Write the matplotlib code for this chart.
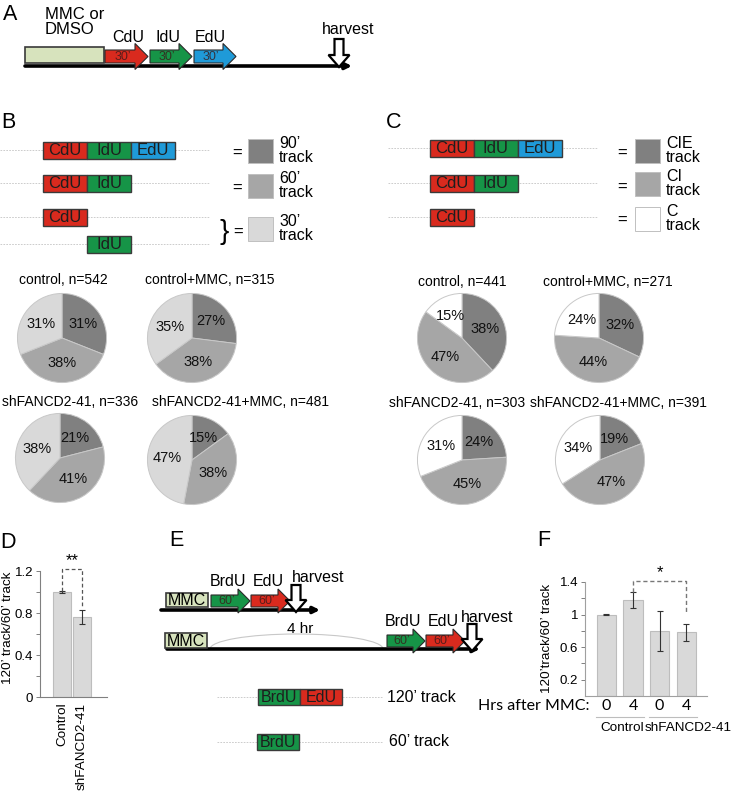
import matplotlib
matplotlib.use('Agg')
import matplotlib.pyplot as plt
from matplotlib.patches import Rectangle, FancyArrow, Arc
from matplotlib.ticker import FixedLocator
import matplotlib.transforms as mtransforms

plt.rcParams['font.family'] = ['Liberation Sans', 'DejaVu Sans']

W, H = 731, 791

# ===== panel B pies: 90', 60', 30' track (%) =====
b_titles = ['control, n=542', 'control+MMC, n=315',
            'shFANCD2-41, n=336', 'shFANCD2-41+MMC, n=481']
b_90 = [31, 27, 21, 15]
b_60 = [38, 38, 41, 38]
b_30 = [31, 35, 38, 47]

# ===== panel C pies: CIE, CI, C track (%) =====
c_titles = ['control, n=441', 'control+MMC, n=271',
            'shFANCD2-41, n=303', 'shFANCD2-41+MMC, n=391']
c_cie = [38, 32, 24, 19]
c_ci = [47, 44, 45, 47]
c_c = [15, 24, 31, 34]

# ===== panel D bars =====
d_groups = ['Control', 'shFANCD2-41']
d_vals = [1.00, 0.76]
d_errs = [0.01, 0.065]

# ===== panel F bars =====
f_hrs = ['0', '4', '0', '4']
f_vals = [1.00, 1.18, 0.80, 0.78]
f_errs = [0.005, 0.10, 0.25, 0.10]
f_groups = ['Control', 'shFANCD2-41']

RED, GREEN, BLUE = '#d92a1e', '#169447', '#1f9ad8'
PALE = '#d7e3bd'
DARK, MID, LIGHT = '#808080', '#a6a6a6', '#d9d9d9'
EDGE = '#3a3a3a'

fig = plt.figure(figsize=(W / 100, H / 100), dpi=100)
bg = fig.add_axes([0, 0, 1, 1])
bg.set_xlim(0, W)
bg.set_ylim(H, 0)
bg.axis('off')


def px_axes(x0, y0, x1, y1):
    return fig.add_axes([x0 / W, 1 - y1 / H, (x1 - x0) / W, (y1 - y0) / H])


def txt(x, y, s, size=11, **kw):
    kw.setdefault('ha', 'center')
    kw.setdefault('va', 'center')
    bg.text(x, y, s, fontsize=size, **kw)


def block_arrow(x0, x1, yc, col, label, body=13, head=26, hl=13):
    bg.add_patch(FancyArrow(x0, yc, x1 - x0, 0, width=body, head_width=head,
                            head_length=hl, length_includes_head=True,
                            fc=col, ec='#2a2a2a', lw=0.8, zorder=3))
    txt((x0 + x1) / 2 - 4, yc + 0.5, label, size=9, color='#3a1a1a', alpha=0.8, zorder=4)


def harvest_arrow(x, y0, y1):
    bg.add_patch(FancyArrow(x, y0, 0, y1 - y0, width=9, head_width=21,
                            head_length=12, length_includes_head=True,
                            fc='white', ec='black', lw=1.6, zorder=5))


def timeline(x0, x1, y):
    bg.annotate('', xy=(x1, y), xytext=(x0, y),
                arrowprops=dict(arrowstyle='-|>', lw=2.6, color='black',
                                mutation_scale=9, shrinkA=0, shrinkB=0), zorder=2)


def mmc_box(x0, y0, x1, y1, label=None):
    bg.add_patch(Rectangle((x0, y0), x1 - x0, y1 - y0, fc=PALE, ec=EDGE, lw=1.2, zorder=3))
    if label:
        txt((x0 + x1) / 2, (y0 + y1) / 2 + 0.5, label, size=11.5, zorder=4)


def track(x0, y, labels, cols, seg=44, h=17, size=12):
    for i, (lab, c) in enumerate(zip(labels, cols)):
        bg.add_patch(Rectangle((x0 + i * seg, y - h / 2), seg, h, fc=c, ec=EDGE, lw=1.0, zorder=3))
        txt(x0 + i * seg + seg / 2, y + 0.5, lab, size=size, color='#1e1e1e', zorder=4)


def guide(x0, x1, y):
    bg.plot([x0, x1], [y, y], color='#c4c4c4', lw=0.6, ls=(0, (2, 1.5)), zorder=1)


def legend_square(x, y0, col, label):
    bg.add_patch(Rectangle((x, y0), 25, 24, fc=col, ec='#c0c0c0', lw=0.7))
    bg.text(x + 31, y0 + 11.5, label, fontsize=11.5, ha='left', va='center', linespacing=0.95)


def pie_at(cx, cy, vals, cols, r=45):
    ax = px_axes(cx - r, cy - r, cx + r, cy + r)
    ax.pie(vals, colors=cols, startangle=90, counterclock=False,
           autopct=lambda p: f'{p:.0f}%', pctdistance=0.56,
           wedgeprops=dict(edgecolor='#c8c8c8', linewidth=0.7),
           textprops=dict(fontsize=10.5, color='#111'))
    ax.set_xlim(-1.01, 1.01)
    ax.set_ylim(-1.01, 1.01)
    for p in ax.patches:
        p.set_clip_on(False)


# ---------------- panel letters ----------------
for lab, x, y in [('A', 10, 14), ('B', 8, 122), ('C', 394, 123),
                  ('D', 8, 542), ('E', 176, 541), ('F', 544, 540)]:
    txt(x, y, lab, size=15.5)

# ---------------- panel A ----------------
timeline(25, 352, 66)
mmc_box(25, 47, 104, 63)
txt(45, 22, 'MMC or\nDMSO', size=12, ha='left', linespacing=1.0)
block_arrow(105, 148, 56.5, RED, '30\u2019')
block_arrow(150, 192, 56.5, GREEN, '30\u2019')
block_arrow(194, 236, 56.5, BLUE, '30\u2019')
txt(128, 37, 'CdU', size=11.5)
txt(168, 37, 'IdU', size=11.5)
txt(210, 38, 'EdU', size=11.5)
txt(348, 29, 'harvest', size=11.5)
harvest_arrow(339, 39, 67)

# ---------------- panel B schematic ----------------
for y in [150, 183, 217, 244]:
    guide(0, 210, y)
track(43, 150, ['CdU', 'IdU', 'EdU'], [RED, GREEN, BLUE])
track(43, 183, ['CdU', 'IdU'], [RED, GREEN])
track(43, 217, ['CdU'], [RED])
track(87, 244, ['IdU'], [GREEN])
txt(237, 153, '=', size=12)
txt(237, 188, '=', size=12)
txt(238, 232, '=', size=12)
txt(224, 232, '}', size=20)
legend_square(248, 139, DARK, '90\u2019\ntrack')
legend_square(248, 174, MID, '60\u2019\ntrack')
legend_square(248, 217, LIGHT, '30\u2019\ntrack')

# ---------------- panel C schematic ----------------
for y in [148, 183, 217]:
    guide(388, 598, y)
track(430, 148, ['CdU', 'IdU', 'EdU'], [RED, GREEN, BLUE])
track(430, 183, ['CdU', 'IdU'], [RED, GREEN])
track(430, 217, ['CdU'], [RED])
txt(622, 153, '=', size=12)
txt(622, 187, '=', size=12)
txt(622, 220, '=', size=12)
legend_square(635, 139, DARK, 'CIE\ntrack')
legend_square(635, 172, MID, 'CI\ntrack')
legend_square(635, 207, 'white', 'C\ntrack')

# ---------------- pies ----------------
b_centers = [(62, 338), (192, 338), (60, 458), (192, 460)]
b_title_pos = [(63, 280), (210, 280), (70, 402), (241, 402)]
for i in range(4):
    pie_at(*b_centers[i], [b_90[i], b_60[i], b_30[i]], [DARK, MID, LIGHT])
    txt(*b_title_pos[i], b_titles[i], size=10)

c_centers = [(462, 338), (599, 338), (462, 460), (600, 460)]
c_title_pos = [(462, 282), (608, 282), (457, 403), (618, 403)]
for i in range(4):
    pie_at(*c_centers[i], [c_cie[i], c_ci[i], c_c[i]], [DARK, MID, 'white'])
    txt(*c_title_pos[i], c_titles[i], size=10)

# ---------------- panel D ----------------
axd = px_axes(40, 571, 107, 697)
xd = list(range(len(d_vals)))
axd.bar(xd, d_vals, width=0.9, color=LIGHT, edgecolor='#bdbdbd', lw=0.8)
axd.errorbar(xd, d_vals, yerr=d_errs, fmt='none', ecolor='#333', elinewidth=0.8, capsize=2.2, capthick=0.8)
axd.set_xlim(-1.1, 2.25)
axd.set_ylim(0, 1.2)
axd.yaxis.set_major_locator(FixedLocator([0, 0.4, 0.8, 1.2]))
axd.yaxis.set_minor_locator(FixedLocator([0.2, 0.6, 1.0]))
axd.set_yticklabels(['0', '0.4', '0.8', '1.2'])
axd.tick_params(axis='y', which='both', length=3, width=0.7, color='#808080', labelsize=9.5, pad=2)
axd.set_xticks(xd)
axd.set_xticklabels(d_groups, rotation=90, fontsize=9.7)
axd.tick_params(axis='x', length=0, pad=4)
for s in ['top', 'right']:
    axd.spines[s].set_visible(False)
for s in ['left', 'bottom']:
    axd.spines[s].set_color('#808080')
    axd.spines[s].set_linewidth(0.8)
top_d = max(v + e for v, e in zip(d_vals, d_errs)) + 0.21
axd.plot([xd[0], xd[0], xd[1], xd[1]],
         [d_vals[0] + d_errs[0], top_d, top_d, d_vals[1] + d_errs[1] + 0.03],
         color='#555', lw=0.9, ls=(0, (3, 2)), clip_on=False)
axd.text((xd[0] + xd[1]) / 2, top_d + 0.01, '**', ha='center', va='bottom', fontsize=12)
txt(8, 628, '120\u2019 track/60\u2019 track', size=9.7, rotation=90)

# ---------------- panel E ----------------
timeline(161, 320, 610)
mmc_box(166, 593, 208, 607, 'MMC')
block_arrow(211, 250, 601, GREEN, '60\u2019', body=12, head=24, hl=12)
block_arrow(251, 290, 601, RED, '60\u2019', body=12, head=24, hl=12)
txt(228, 582, 'BrdU', size=11.5)
txt(268, 582, 'EdU', size=11.5)
txt(318, 577, 'harvest', size=11.5)
harvest_arrow(296, 585, 612)

timeline(167, 480, 649)
mmc_box(165, 633, 207, 648, 'MMC')
bg.add_patch(Arc(((210 + 383) / 2, 649), 173, 30, theta1=180, theta2=360,
                 color='#c8c8c8', lw=0.8))
txt(300, 629, '4 hr', size=11)
block_arrow(387, 425, 641, GREEN, '60\u2019', body=12, head=24, hl=12)
block_arrow(426, 465, 641, RED, '60\u2019', body=12, head=24, hl=12)
txt(403, 622, 'BrdU', size=11.5)
txt(443, 622, 'EdU', size=11.5)
txt(487, 617, 'harvest', size=11.5)
harvest_arrow(472, 624, 651)

guide(217, 383, 697)
track(258, 697, ['BrdU', 'EdU'], [GREEN, RED], seg=42, h=16, size=11.5)
txt(387, 697, '120\u2019 track', ha='left', size=11.5)
guide(217, 383, 742)
track(257, 742, ['BrdU'], [GREEN], seg=42, h=16, size=11.5)
txt(389, 742, '60\u2019 track', ha='left', size=11.5)

# ---------------- panel F ----------------
axf = px_axes(585, 582, 707, 696)
xf = list(range(len(f_vals)))
axf.bar(xf, f_vals, width=0.72, color=LIGHT, edgecolor='#bdbdbd', lw=0.8)
axf.errorbar(xf, f_vals, yerr=f_errs, fmt='none', ecolor='#333', elinewidth=0.8, capsize=2.0, capthick=0.8)
axf.set_xlim(-0.81, 3.79)
axf.set_ylim(0, 1.4)
axf.yaxis.set_major_locator(FixedLocator([0.2, 0.6, 1.0, 1.4]))
axf.yaxis.set_minor_locator(FixedLocator([0.4, 0.8, 1.2]))
axf.set_yticklabels(['0.2', '0.6', '1', '1.4'])
axf.tick_params(axis='y', which='both', length=3, width=0.7, color='#808080', labelsize=9.5, pad=2)
axf.set_xticks(xf)
axf.set_xticklabels(f_hrs, fontsize=11.5, family='Lato')
axf.tick_params(axis='x', length=0, pad=2)
for s in ['top', 'right']:
    axf.spines[s].set_visible(False)
for s in ['left', 'bottom']:
    axf.spines[s].set_color('#a0a0a0')
    axf.spines[s].set_linewidth(0.8)
top_f = f_vals[1] + f_errs[1] + 0.13
axf.plot([xf[1], xf[1], xf[3], xf[3]],
         [f_vals[1] + f_errs[1], top_f, top_f, f_vals[3] + f_errs[3] + 0.14],
         color='#777', lw=1.0, ls=(0, (3, 2)), clip_on=False)
axf.text((xf[1] + xf[3]) / 2, top_f + 0.01, '*', ha='center', va='bottom', fontsize=12)
blend = mtransforms.blended_transform_factory(axf.transData, axf.transAxes)
for g, name in enumerate(f_groups):
    xa, xb = xf[2 * g] - 0.4, xf[2 * g + 1] + 0.4
    axf.plot([xa, xb], [-0.185, -0.185], color='#bdbdbd', lw=0.8, transform=blend, clip_on=False)
    if g == 0:
        axf.text(xb, -0.28, name, ha='right', va='center', fontsize=9.7, transform=blend)
    else:
        axf.text(xa - 0.15, -0.28, name, ha='left', va='center', fontsize=9.7, transform=blend)
txt(590, 706, 'Hrs after MMC:', size=11.5, ha='right', family='Lato')
txt(547, 638, '120\u2019track/60\u2019 track', size=9.7, rotation=90)

fig.savefig('out.png', dpi=100)
